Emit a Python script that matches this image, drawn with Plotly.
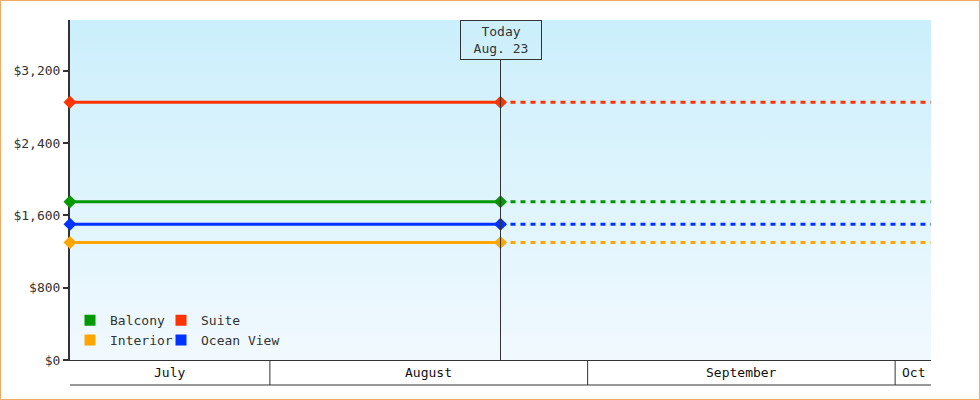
import pandas as pd
import plotly.graph_objects as go

# data
series_names = ["Balcony", "Suite", "Interior", "Ocean View"]
series_prices = [1750, 2850, 1300, 1500]
series_colors = ["#009900", "#ff3300", "#ffa500", "#0033ff"]

start_date = "2024-07-12 12:00"
today_date = "2024-08-23 12:00"
end_date = "2024-10-04 12:00"
today_label = "Today<br>Aug. 23"

month_names = ["July", "August", "September", "Oct"]
month_starts = ["2024-07-01", "2024-08-01", "2024-09-01", "2024-10-01", "2024-11-01"]

y_ticks = [0, 800, 1600, 2400, 3200]
y_labels = ["$" + format(v, ",") for v in y_ticks]
y_max = 3760

FONT = "DejaVu Sans Mono"
DARK = "#333333"
W, H = 980, 400
ML, MR, MT, MB = 70, 49, 20, 40

fig = go.Figure()

# gradient background of the plot area
fig.add_trace(go.Scatter(
    x=[start_date, end_date, end_date, start_date, start_date],
    y=[0, 0, y_max, y_max, 0],
    mode="lines", line=dict(width=0), fill="toself",
    fillgradient=dict(type="vertical",
                      colorscale=[[0, "#f1f9fe"], [1, "#cbeffc"]]),
    hoverinfo="skip", showlegend=False,
))

# today line
fig.add_shape(type="line", xref="x", yref="paper",
              x0=today_date, x1=today_date, y0=0, y1=0.885,
              line=dict(color=DARK, width=1))

# price lines
for name, price, color in zip(series_names, series_prices, series_colors):
    fig.add_trace(go.Scatter(
        x=[today_date, end_date], y=[price, price], mode="lines",
        line=dict(color=color, width=3, dash="5px,5px"),
        showlegend=False, hoverinfo="skip",
    ))
    fig.add_trace(go.Scatter(
        x=[start_date, today_date], y=[price, price], mode="lines+markers",
        line=dict(color=color, width=3),
        marker=dict(color=color, size=10, symbol="diamond"),
        cliponaxis=False, name=name, showlegend=False,
    ))

# legend entries (two columns)
for i, (name, color) in enumerate(zip(series_names, series_colors)):
    fig.add_trace(go.Scatter(
        x=[None], y=[None], mode="markers", name=name,
        marker=dict(color=color, size=11, symbol="square"),
        legend="legend" if i % 2 == 0 else "legend2",
    ))

# month band under the x axis
band = -25 / (H - MT - MB)
fig.add_shape(type="line", xref="paper", yref="paper", x0=0, x1=1, y0=band, y1=band,
              line=dict(color=DARK, width=1))
x_lo, x_hi = pd.Timestamp(start_date), pd.Timestamp(end_date)
for i, m in enumerate(month_names):
    a = max(pd.Timestamp(month_starts[i]), x_lo)
    b = min(pd.Timestamp(month_starts[i + 1]), x_hi)
    if pd.Timestamp(month_starts[i]) > x_lo:
        fig.add_shape(type="line", xref="x", yref="paper", x0=a, x1=a, y0=band, y1=0,
                      line=dict(color=DARK, width=1))
    fig.add_annotation(x=a + (b - a) / 2, xref="x", y=band / 2, yref="paper",
                       yanchor="middle", xanchor="center",
                       text=m, showarrow=False, font=dict(family=FONT, size=13, color="#111"))

# today box
fig.add_annotation(x=today_date, xref="x", y=1, yref="paper", yanchor="top",
                   text=today_label, showarrow=False, align="center",
                   width=78, height=36, borderpad=1,
                   bordercolor=DARK, borderwidth=1,
                   font=dict(family=FONT, size=13, color=DARK))

# orange frame around the whole figure
pw, ph = W - ML - MR, H - MT - MB
fig.add_shape(type="rect", xref="paper", yref="paper",
              x0=-(ML - 0.5) / pw, x1=1 + (MR - 0.5) / pw,
              y0=-(MB - 0.5) / ph, y1=1 + (MT - 0.5) / ph,
              line=dict(color="#f0aa66", width=1), layer="above")

legend_style = dict(font=dict(family=FONT, size=13, color=DARK), bgcolor="rgba(0,0,0,0)",
                    xanchor="left", yanchor="bottom", orientation="v",
                    itemwidth=30, tracegroupgap=0, y=0.014)

fig.update_layout(
    width=W, height=H,
    margin=dict(l=ML, r=MR, t=MT, b=MB),
    paper_bgcolor="white", plot_bgcolor="white",
    font=dict(family=FONT, size=13, color=DARK),
    legend=dict(legend_style, x=0.0),
    legend2=dict(legend_style, x=0.1057),
    xaxis=dict(type="date", range=[start_date, end_date], showticklabels=False,
               ticks="", showgrid=False, zeroline=False,
               showline=True, linecolor=DARK, linewidth=1),
    yaxis=dict(range=[0, y_max], tickvals=y_ticks, ticktext=y_labels,
               ticks="outside", ticklen=5, tickwidth=2, tickcolor=DARK,
               showgrid=False, zeroline=False, layer="below traces",
               showline=True, linecolor=DARK, linewidth=2,
               tickfont=dict(family=FONT, size=13, color=DARK)),
)

fig.write_html("out.html", config={"displayModeBar": False},
               post_script="document.body.style.margin='0';")
